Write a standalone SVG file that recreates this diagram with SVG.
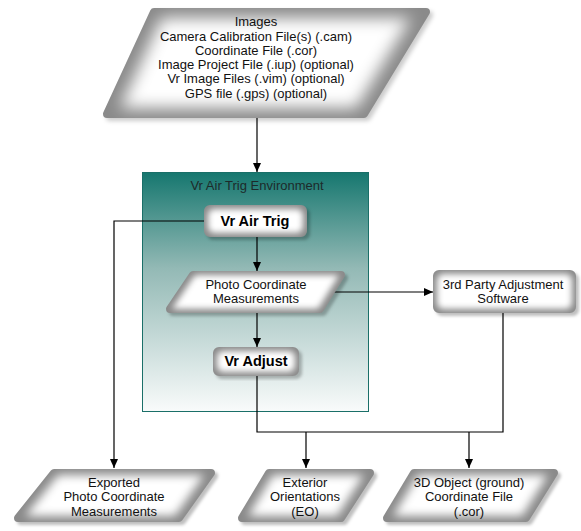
<svg xmlns="http://www.w3.org/2000/svg" width="581" height="531" viewBox="0 0 581 531">
<defs>
<linearGradient id="envg" x1="0" y1="0" x2="0" y2="1">
<stop offset="0" stop-color="#16776f"/>
<stop offset="0.4" stop-color="#93b9b5"/>
<stop offset="1" stop-color="#f9fbfb"/>
</linearGradient>
<filter id="bevS" x="-0.15" y="-0.3" width="1.35" height="1.7" color-interpolation-filters="sRGB">
<feOffset in="SourceAlpha" dx="3" dy="3" result="o"/>
<feGaussianBlur in="o" stdDeviation="1.5" result="ob"/>
<feFlood flood-color="#000" flood-opacity="0.25"/>
<feComposite in2="ob" operator="in" result="sh"/>
<feFlood flood-color="#8a8a8a"/>
<feComposite in2="SourceAlpha" operator="in" result="base"/>
<feMorphology in="SourceAlpha" operator="erode" radius="4" result="er"/>
<feGaussianBlur in="er" stdDeviation="3" result="erb"/>
<feFlood flood-color="#ffffff"/>
<feComposite in2="erb" operator="in" result="hl"/>
<feComposite in="hl" in2="SourceAlpha" operator="in" result="hl2"/>
<feMerge><feMergeNode in="sh"/><feMergeNode in="base"/><feMergeNode in="hl2"/></feMerge>
</filter>
<filter id="bevM" x="-0.1" y="-0.2" width="1.25" height="1.5" color-interpolation-filters="sRGB">
<feOffset in="SourceAlpha" dx="3" dy="3" result="o"/>
<feGaussianBlur in="o" stdDeviation="1.5" result="ob"/>
<feFlood flood-color="#000" flood-opacity="0.25"/>
<feComposite in2="ob" operator="in" result="sh"/>
<feFlood flood-color="#8a8a8a"/>
<feComposite in2="SourceAlpha" operator="in" result="base"/>
<feMorphology in="SourceAlpha" operator="erode" radius="6" result="er"/>
<feGaussianBlur in="er" stdDeviation="5" result="erb"/>
<feFlood flood-color="#ffffff"/>
<feComposite in2="erb" operator="in" result="hl"/>
<feComposite in="hl" in2="SourceAlpha" operator="in" result="hl2"/>
<feMerge><feMergeNode in="sh"/><feMergeNode in="base"/><feMergeNode in="hl2"/></feMerge>
</filter>
<filter id="bevL" x="-0.1" y="-0.1" width="1.2" height="1.25" color-interpolation-filters="sRGB">
<feOffset in="SourceAlpha" dx="3" dy="3" result="o"/>
<feGaussianBlur in="o" stdDeviation="2" result="ob"/>
<feFlood flood-color="#000" flood-opacity="0.2"/>
<feComposite in2="ob" operator="in" result="sh"/>
<feFlood flood-color="#8a8a8a"/>
<feComposite in2="SourceAlpha" operator="in" result="base"/>
<feMorphology in="SourceAlpha" operator="erode" radius="10" result="er"/>
<feGaussianBlur in="er" stdDeviation="8" result="erb"/>
<feFlood flood-color="#ffffff"/>
<feComposite in2="erb" operator="in" result="hl"/>
<feComposite in="hl" in2="SourceAlpha" operator="in" result="hl2"/>
<feMerge><feMergeNode in="sh"/><feMergeNode in="base"/><feMergeNode in="hl2"/></feMerge>
</filter>
<marker id="arr" markerWidth="9" markerHeight="8" refX="9" refY="4" orient="auto" markerUnits="userSpaceOnUse">
<path d="M0,0 L9,4 L0,8 Z" fill="#000"/>
</marker>
</defs>
<style>
.shape{fill:#999;stroke:#999;stroke-width:8;stroke-linejoin:round}
.t{font-family:"Liberation Sans",Arial,sans-serif;font-size:13px;fill:#111;text-anchor:middle}
.b{font-family:"Liberation Sans",Arial,sans-serif;font-size:14.5px;font-weight:bold;fill:#000;text-anchor:middle}
.c{fill:none;stroke:#000;stroke-width:1.2}
</style>
<rect width="581" height="531" fill="#fff"/>

<g id="env">
<rect x="142.5" y="172.5" width="226" height="239" fill="url(#envg)" stroke="#1a6f68" stroke-width="1"/>
<text class="t" x="257" y="190" style="fill:#1d2a2a">Vr Air Trig Environment</text>
</g>

<g id="connectors">
<line class="c" x1="257" y1="118" x2="257" y2="172" marker-end="url(#arr)"/>
<line class="c" x1="257" y1="236" x2="257" y2="271" marker-end="url(#arr)"/>
<line class="c" x1="257" y1="313" x2="257" y2="347" marker-end="url(#arr)"/>
<line class="c" x1="325" y1="292" x2="433" y2="292" marker-end="url(#arr)"/>
<polyline class="c" points="205,221 114,221 114,468" marker-end="url(#arr)"/>
<polyline class="c" points="257,375 257,432 503,432 503,313"/>
<line class="c" x1="306" y1="432" x2="306" y2="468" marker-end="url(#arr)"/>
<line class="c" x1="469" y1="432" x2="469" y2="468" marker-end="url(#arr)"/>
</g>

<g id="inputs">
<polygon class="shape" filter="url(#bevL)" points="154,12 426,12 364,114 107,114"/>
<text class="t" x="256" y="26">Images</text>
<text class="t" x="256" y="41">Camera Calibration File(s) (.cam)</text>
<text class="t" x="256" y="55">Coordinate File (.cor)</text>
<text class="t" x="256" y="69">Image Project File (.iup) (optional)</text>
<text class="t" x="256" y="83">Vr Image Files (.vim) (optional)</text>
<text class="t" x="256" y="98">GPS file (.gps) (optional)</text>
</g>

<g id="vrairtrig">
<rect class="shape" filter="url(#bevS)" x="208" y="209" width="95" height="24" rx="2"/>
<text class="b" x="255" y="226">Vr Air Trig</text>
</g>

<g id="photocoord">
<polygon class="shape" filter="url(#bevS)" points="193,275 341,275 320,309 170,309"/>
<text class="t" x="256" y="289">Photo Coordinate</text>
<text class="t" x="256" y="303">Measurements</text>
</g>

<g id="vradjust">
<rect class="shape" filter="url(#bevS)" x="217" y="351" width="78" height="21" rx="2"/>
<text class="b" x="256" y="366">Vr Adjust</text>
</g>

<g id="thirdparty">
<rect class="shape" filter="url(#bevS)" x="437" y="274" width="135" height="35" rx="2"/>
<text class="t" x="503" y="289">3rd Party Adjustment</text>
<text class="t" x="503" y="303">Software</text>
</g>

<g id="exported">
<polygon class="shape" filter="url(#bevM)" points="54,473 211,473 179,518 18,518"/>
<text class="t" x="114" y="487">Exported</text>
<text class="t" x="114" y="501">Photo Coordinate</text>
<text class="t" x="114" y="516">Measurements</text>
</g>

<g id="exterior">
<polygon class="shape" filter="url(#bevM)" points="269,473 370,473 341,518 242,518"/>
<text class="t" x="305" y="487">Exterior</text>
<text class="t" x="305" y="501">Orientations</text>
<text class="t" x="305" y="516">(EO)</text>
</g>

<g id="object3d">
<polygon class="shape" filter="url(#bevM)" points="414,473 554,473 526,518 387,518"/>
<text class="t" x="469" y="487">3D Object (ground)</text>
<text class="t" x="469" y="501">Coordinate File</text>
<text class="t" x="469" y="516">(.cor)</text>
</g>
</svg>
